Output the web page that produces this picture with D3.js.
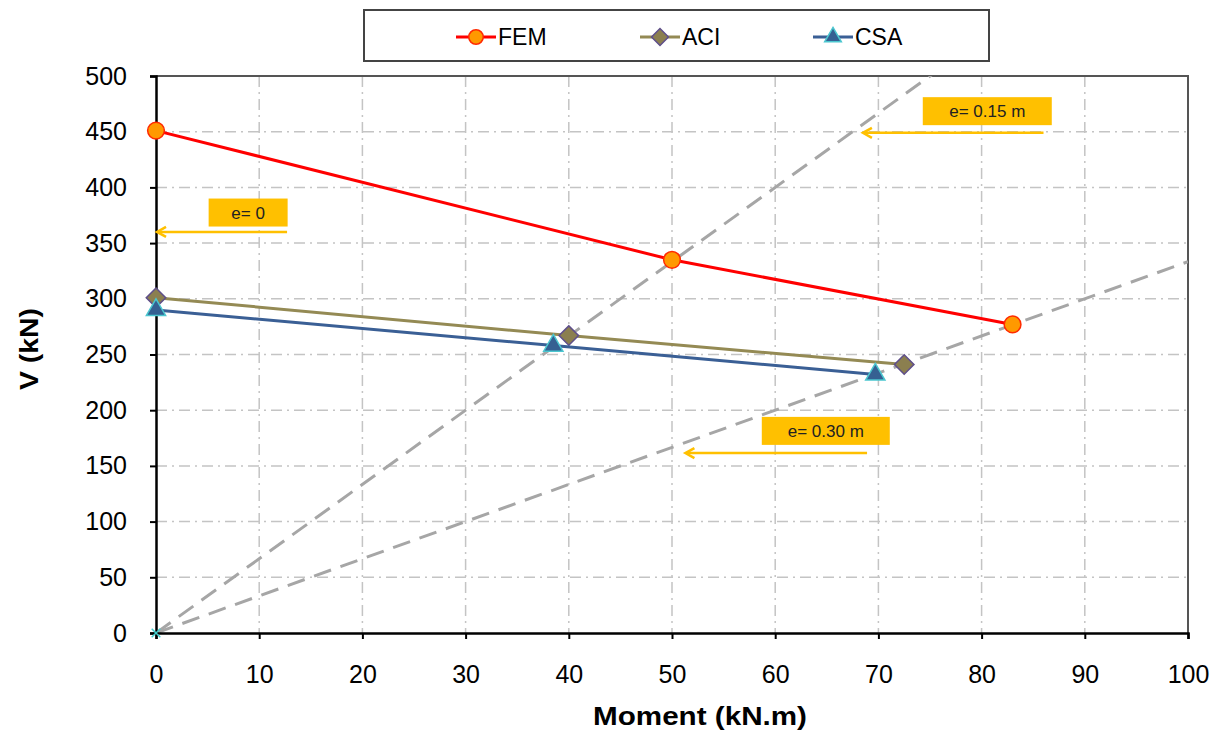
<!DOCTYPE html>
<html>
<head>
<meta charset="utf-8">
<script src="https://cdn.jsdelivr.net/npm/d3@7"></script>
<style>
  body { margin: 0; background: #fff; }
  text { font-family: "Liberation Sans", Arial, sans-serif; }
</style>
</head>
<body>
<div id="chart_container"></div>
<script>
// Data
var fem_m = [0, 50, 83];
var fem_v = [451, 335, 277];
var aci_m = [0, 40, 72.5];
var aci_v = [301, 267, 241];
var csa_m = [0, 38.5, 69.7];
var csa_v = [290, 258, 232];
var ecc = [0.15, 0.30];           // eccentricity lines V = M / e
var x_ticks = d3.range(0, 101, 10);
var y_ticks = d3.range(0, 501, 50);
var notes = ["e= 0", "e= 0.15 m", "e= 0.30 m"];
var note_x = [5.1, 74.3, 58.7];   // box left edge (kN.m)
var note_v = [390, 481, 194];     // box top (kN)
var arrow_x1 = [12.7, 86.0, 68.9];
var arrow_x2 = [0.1, 68.5, 51.3];
var arrow_v = [360, 449, 161.5];

// Chart dimensions
var width = 1215;
var height = 736;
var margin = {top: 76, right: 27, bottom: 103, left: 156};
var plot_w = width - margin.left - margin.right;
var plot_h = height - margin.top - margin.bottom;

var x_scale = d3.scaleLinear().domain([0, 100]).range([0, plot_w]);
var y_scale = d3.scaleLinear().domain([0, 500]).range([plot_h, 0]);

var svg = d3.select("#chart_container")
    .append("svg")
    .attr("width", width)
    .attr("height", height);

var chart = svg.append("g")
    .attr("transform", "translate(" + margin.left + "," + margin.top + ")");

// Gridlines (dash-dot)
chart.append("g")
    .selectAll("line")
    .data(x_ticks.slice(1))
    .enter()
    .append("line")
    .attr("x1", d => x_scale(d)).attr("x2", d => x_scale(d))
    .attr("y1", 0).attr("y2", plot_h)
    .attr("stroke", "#c4c4c4").attr("stroke-width", 1.5)
    .attr("stroke-dasharray", "11,5,2,5");

chart.append("g")
    .selectAll("line")
    .data(y_ticks.slice(1))
    .enter()
    .append("line")
    .attr("x1", 0).attr("x2", plot_w)
    .attr("y1", d => y_scale(d)).attr("y2", d => y_scale(d))
    .attr("stroke", "#c4c4c4").attr("stroke-width", 1.5)
    .attr("stroke-dasharray", "11,5,2,5");

// Plot border top and right
chart.append("path")
    .attr("d", "M0," + y_scale(500) + "H" + x_scale(100) + "V" + y_scale(0))
    .attr("fill", "none").attr("stroke", "#555").attr("stroke-width", 2);

// Eccentricity lines
chart.append("clipPath").attr("id", "clip")
    .append("rect").attr("width", plot_w).attr("height", plot_h);

chart.append("g")
    .attr("clip-path", "url(#clip)")
    .selectAll("line")
    .data(ecc)
    .enter()
    .append("line")
    .attr("x1", x_scale(0)).attr("y1", y_scale(0))
    .attr("x2", x_scale(100)).attr("y2", d => y_scale(100 / d))
    .attr("stroke", "#a6a6a6").attr("stroke-width", 3)
    .attr("stroke-dasharray", "18,10");

// Axes
var x_axis = d3.axisBottom(x_scale).tickValues(x_ticks).tickSize(6).tickFormat(d3.format("d"));
var y_axis = d3.axisLeft(y_scale).tickValues(y_ticks).tickSize(6).tickFormat(d3.format("d"));

var gx = chart.append("g")
    .attr("transform", "translate(0," + plot_h + ")")
    .call(x_axis);
gx.select(".domain").attr("stroke", "#000").attr("stroke-width", 2.5);
gx.selectAll(".tick line").attr("stroke", "#000").attr("stroke-width", 2);
gx.selectAll(".tick text")
    .attr("y", 32).attr("dy", "0.71em")
    .style("font-size", "25px").attr("fill", "#000");

var gy = chart.append("g").call(y_axis);
gy.select(".domain").attr("stroke", "#000").attr("stroke-width", 2.5);
gy.selectAll(".tick line").attr("stroke", "#000").attr("stroke-width", 2);
gy.selectAll(".tick text")
    .attr("x", -29)
    .style("font-size", "25px").attr("fill", "#000");

// Series
var series = [
    {name: "FEM", m: fem_m, v: fem_v, line: "#ff0000", fill: "#ff9900", edge: "#ff2a00", shape: d3.symbolCircle, size: 220, rot: 0},
    {name: "ACI", m: aci_m, v: aci_v, line: "#948a54", fill: "#8b7f4f", edge: "#5f4f8a", shape: d3.symbolSquare, size: 190, rot: 45},
    {name: "CSA", m: csa_m, v: csa_v, line: "#3a5f95", fill: "#356092", edge: "#4bc6cf", shape: d3.symbolTriangle, size: 160, rot: 0}
];

var line_gen = d3.line()
    .x(d => x_scale(d[0]))
    .y(d => y_scale(d[1]));

series.forEach(function(s) {
    var pts = s.m.map((m, i) => [m, s.v[i]]);
    chart.append("path")
        .datum(pts)
        .attr("d", line_gen)
        .attr("fill", "none")
        .attr("stroke", s.line)
        .attr("stroke-width", 3);
    chart.append("g")
        .selectAll("path")
        .data(pts)
        .enter()
        .append("path")
        .attr("transform", d => "translate(" + x_scale(d[0]) + "," + y_scale(d[1]) + ") rotate(" + s.rot + ")")
        .attr("d", d3.symbol().type(s.shape).size(s.size))
        .attr("fill", s.fill)
        .attr("stroke", s.edge)
        .attr("stroke-width", 1.5);
});

// marker at origin
chart.append("path")
    .attr("transform", "translate(" + x_scale(0) + "," + y_scale(0) + ")")
    .attr("d", d3.symbol().type(d3.symbolX).size(50))
    .attr("fill", "none")
    .attr("stroke", "#40d0d0")
    .attr("stroke-width", 1.5);

// Annotations
var note_w = [79, 129, 128];
notes.forEach(function(n, i) {
    var bx = x_scale(note_x[i]);
    var by = y_scale(note_v[i]);
    chart.append("rect")
        .attr("x", bx).attr("y", by)
        .attr("width", note_w[i]).attr("height", 28)
        .attr("fill", "#ffc000");
    chart.append("text")
        .attr("x", bx + note_w[i] / 2).attr("y", by + 20)
        .attr("text-anchor", "middle")
        .style("font-size", "17px")
        .attr("fill", "#222")
        .text(n);
    var ay = y_scale(arrow_v[i]);
    var ax2 = x_scale(arrow_x2[i]);
    chart.append("line")
        .attr("x1", x_scale(arrow_x1[i])).attr("x2", ax2 + 2)
        .attr("y1", ay).attr("y2", ay)
        .attr("stroke", "#ffc000").attr("stroke-width", 2.5);
    chart.append("path")
        .attr("d", "M" + (ax2 + 9) + "," + (ay - 5) + "L" + ax2 + "," + ay + "L" + (ax2 + 9) + "," + (ay + 5))
        .attr("fill", "none").attr("stroke", "#ffc000").attr("stroke-width", 2.5);
});

// Axis titles
svg.append("text")
    .attr("x", 700)
    .attr("y", 725)
    .attr("text-anchor", "middle")
    .attr("textLength", 214)
    .attr("lengthAdjust", "spacingAndGlyphs")
    .style("font-size", "25px").style("font-weight", "bold")
    .text("Moment (kN.m)");

svg.append("text")
    .attr("transform", "translate(38,349) rotate(-90)")
    .attr("text-anchor", "middle")
    .attr("textLength", 82)
    .attr("lengthAdjust", "spacingAndGlyphs")
    .style("font-size", "25px").style("font-weight", "bold")
    .text("V (kN)");

// Legend
var legend = svg.append("g");
legend.append("rect")
    .attr("x", 364).attr("y", 10)
    .attr("width", 625).attr("height", 51)
    .attr("fill", "#fff").attr("stroke", "#444").attr("stroke-width", 2);

var legend_x = [456, 640, 813];
series.forEach(function(s, i) {
    var lx = legend_x[i];
    legend.append("line")
        .attr("x1", lx).attr("x2", lx + 40)
        .attr("y1", 37).attr("y2", 37)
        .attr("stroke", s.line).attr("stroke-width", 3);
    legend.append("path")
        .attr("transform", "translate(" + (lx + 20) + ",37) rotate(" + s.rot + ")")
        .attr("d", d3.symbol().type(s.shape).size(s.size * 0.75))
        .attr("fill", s.fill).attr("stroke", s.edge).attr("stroke-width", 1.5);
    legend.append("text")
        .attr("x", lx + 42).attr("y", 45)
        .style("font-size", "23px")
        .text(s.name);
});
</script>
</body>
</html>
